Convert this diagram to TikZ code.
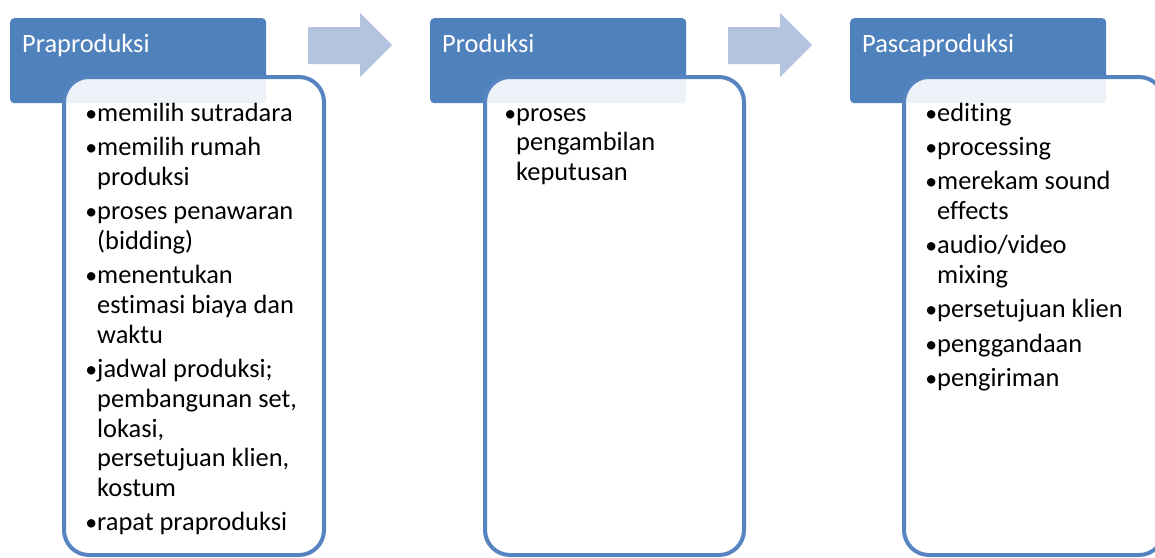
\documentclass[tikz,border=0pt]{standalone}
\usepackage{fontspec}
\setmainfont{Carlito}[Ligatures=NoCommon]
\usetikzlibrary{calc}

\definecolor{hdrblue}{RGB}{79,129,189}
\definecolor{arrblue}{RGB}{180,195,222}
\definecolor{boxline}{RGB}{86,132,193}

\tikzset{
  header/.style={fill=hdrblue, rounded corners=4pt, minimum width=256pt, minimum height=85pt, inner sep=0pt, anchor=north west},
  hdrtext/.style={text=white, font=\fontsize{26.4}{30}\selectfont, inner sep=0pt, anchor=base west},
  content/.style={draw=boxline, line width=4pt, fill=white, fill opacity=0.9, rounded corners=25pt, minimum height=478pt, inner sep=0pt, anchor=north west},
  itemtext/.style={font=\fontsize{26.4}{29.8}\selectfont, align=left, inner sep=0pt, anchor=north west},
  blockarrow/.style={fill=arrblue}
}
\newcommand{\itm}{\strut\llap{\scalebox{0.9}{•}}}

\begin{document}
\begin{tikzpicture}[x=1pt,y=-1pt]
\useasboundingbox (0,0) rectangle (1155,557);
\clip (0,0) rectangle (1155,557);
% headers
\node[header] (h1) at (10,18) {};
\node[header] (h2) at (430,18) {};
\node[header] (h3) at (850,18) {};
\node[hdrtext] (l1) at ($(h1.north west)+(12,34)$) {Praproduksi};
\node[hdrtext] (l2) at ($(h2.north west)+(12,34)$) {Produksi};
\node[hdrtext] (l3) at ($(h3.north west)+(12,34)$) {Pascaproduksi};
% arrows between the steps
\foreach \dx in {0,420}
  \fill[blockarrow] (308+\dx,27) -- (360+\dx,27) -- (360+\dx,13) -- (392+\dx,45) -- (360+\dx,77) -- (360+\dx,64) -- (308+\dx,64) -- cycle;
% content boxes
\node[content, minimum width=260pt] (c1) at (62,75) {};
\node[content, minimum width=259pt] (c2) at (483,75) {};
\node[content, minimum width=260pt] (c3) at (902,75) {};
\node[itemtext] (t1) at (97,100) {\itm memilih sutradara\\[4.5pt]
  \itm memilih rumah\\produksi\\[4.5pt]
  \itm proses penawaran\\(bidding)\\[4.5pt]
  \itm menentukan\\estimasi biaya dan\\waktu\\[4.5pt]
  \itm jadwal produksi;\\pembangunan set,\\lokasi,\\persetujuan klien,\\kostum\\[4pt]
  \itm rapat praproduksi};
\node[itemtext] (t2) at (516,100) {\itm proses\\pengambilan\\keputusan};
\node[itemtext] (t3) at (937,100) {\itm editing\\[4.5pt]
  \itm processing\\[4.5pt]
  \itm merekam sound\\effects\\[4.5pt]
  \itm audio/video\\mixing\\[4.5pt]
  \itm persetujuan klien\\[4.5pt]
  \itm penggandaan\\[4.5pt]
  \itm pengiriman};
\end{tikzpicture}
\end{document}
